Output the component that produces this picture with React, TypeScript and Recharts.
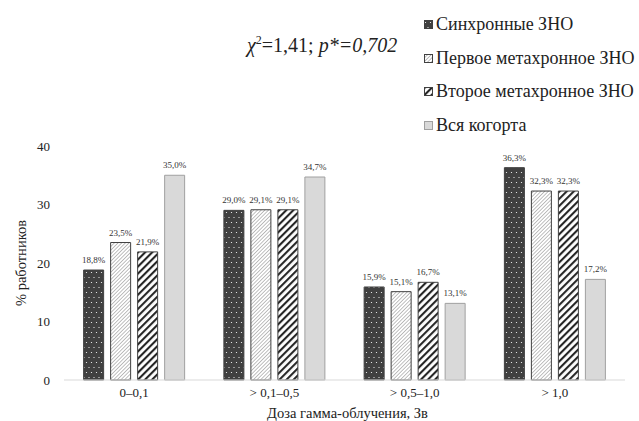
import React from 'react';
import { BarChart, Bar, XAxis, YAxis, LabelList, Customized } from 'recharts';

const categories = ['0–0,1', '> 0,1–0,5', '> 0,5–1,0', '> 1,0'];
const seriesNames = ['Синхронные ЗНО', 'Первое метахронное ЗНО', 'Второе метахронное ЗНО', 'Вся когорта'];
const synchronous = [18.8, 29.0, 15.9, 36.3];
const firstMeta = [23.5, 29.1, 15.1, 32.3];
const secondMeta = [21.9, 29.1, 16.7, 32.3];
const cohort = [35.0, 34.7, 13.1, 17.2];
const yTicks = [0, 10, 20, 30, 40];

const data = categories.map((c, i) => ({
  cat: c,
  s1: synchronous[i],
  s2: firstMeta[i],
  s3: secondMeta[i],
  s4: cohort[i],
}));

const FONT = '"Liberation Serif", "Times New Roman", serif';
const fills = ['url(#pDots)', 'url(#pThin)', 'url(#pThick)', '#d9d9d9'];
const strokes = ['#404040', '#404040', '#404040', '#a0a0a0'];
const keys = ['s1', 's2', 's3', 's4'];

const fmt = (v: any) => `${Number(v).toFixed(1).replace('.', ',')}%`;

const Defs = () => (
  <defs>
    <pattern id="pDots" width="5" height="10" patternUnits="userSpaceOnUse">
      <rect width="5" height="10" fill="#404040" />
      <circle cx="1.5" cy="2.5" r="0.6" fill="#ffffff" />
      <circle cx="4" cy="7.5" r="0.6" fill="#ffffff" />
    </pattern>
    <pattern id="pThin" width="2.6" height="2.6" patternUnits="userSpaceOnUse" patternTransform="rotate(45)">
      <rect width="2.6" height="2.6" fill="#ffffff" />
      <line x1="0" y1="0" x2="0" y2="2.6" stroke="#808080" strokeWidth="1" />
    </pattern>
    <pattern id="pThick" width="5" height="5" patternUnits="userSpaceOnUse" patternTransform="rotate(45)">
      <rect width="5" height="5" fill="#ffffff" />
      <line x1="1" y1="0" x2="1" y2="5" stroke="#262626" strokeWidth="2.2" />
    </pattern>
  </defs>
);

const Annotation = () => (
  <text x={247} y={52} style={{ fontFamily: FONT }} fontSize={20} fill="#222">
    <tspan fontStyle="italic">χ</tspan>
    <tspan fontSize={12} dy={-8}>2</tspan>
    <tspan dy={8}>=1,41; </tspan>
    <tspan fontStyle="italic">p*=0,702</tspan>
  </text>
);

const textStyle = { fontFamily: FONT, fontSize: 13, fill: '#222' };
const titleStyle = { fontFamily: FONT, fontSize: 14.5, fill: '#222' };

export default function App() {
  return (
    <div style={{ position: 'absolute', left: 0, top: 0, width: 639, height: 421, background: '#fff', fontFamily: FONT }}>
      <BarChart
        width={639}
        height={421}
        data={data}
        margin={{ top: 146, right: 14, bottom: 11, left: 0 }}
        barCategoryGap="14%"
        barGap={7}
      >
        <Defs />
        <XAxis
          dataKey="cat"
          height={30}
          tickLine={false}
          axisLine={{ stroke: '#d9d9d9' }}
          tick={textStyle}
          label={{ value: 'Доза гамма-облучения, Зв', position: 'insideBottom', offset: -8, dx: 3, style: titleStyle }}
        />
        <YAxis
          width={64}
          domain={[0, 40]}
          ticks={yTicks}
          axisLine={false}
          tickLine={false}
          tickMargin={8}
          tick={textStyle}
          label={{ value: '% работников', angle: -90, position: 'insideLeft', offset: 21, style: { ...titleStyle, textAnchor: 'middle' } }}
        />
        {keys.map((k, i) => (
          <Bar key={k} dataKey={k} name={seriesNames[i]} fill={fills[i]} stroke={strokes[i]} strokeWidth={1} isAnimationActive={false}>
            <LabelList dataKey={k} position="top" offset={7} formatter={fmt} fill="#333" style={{ fontFamily: FONT, fontSize: 9, fill: '#333' }} />
          </Bar>
        ))}
        <Customized component={Annotation} />
      </BarChart>
      <div style={{ position: 'absolute', left: 424, top: 8, fontFamily: FONT, fontSize: 18, color: '#222' }}>
        {seriesNames.map((n, i) => (
          <div key={n} style={{ display: 'flex', alignItems: 'center', height: 33.5, whiteSpace: 'nowrap' }}>
            <svg width={9} height={9} style={{ marginRight: 3 }}>
              <rect x={0.5} y={0.5} width={8} height={8} fill={fills[i]} stroke={strokes[i]} strokeWidth={1} />
            </svg>
            <span>{n}</span>
          </div>
        ))}
      </div>
    </div>
  );
}
